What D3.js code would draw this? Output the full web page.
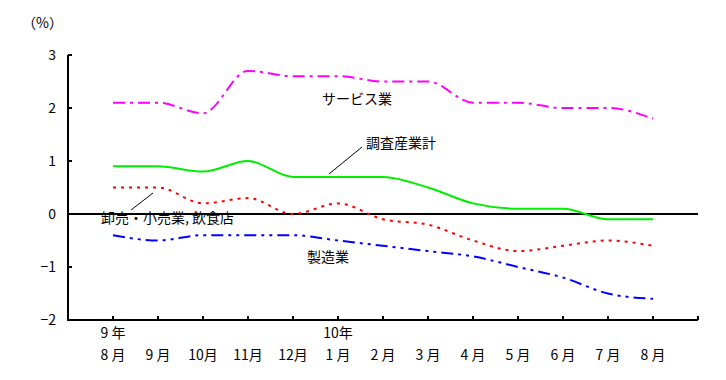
<!DOCTYPE html>
<html><head><meta charset="utf-8">
<script src="https://cdn.jsdelivr.net/npm/d3@7"></script>
<style>body{margin:0;background:#fff}svg{display:block}text{font-family:"Noto Sans CJK JP",sans-serif;fill:#000;white-space:pre}</style>
</head><body><svg id="c" width="726" height="380"></svg>
<script>
const months = ["8 月","9 月","10月","11月","12月","1 月","2 月","3 月","4 月","5 月","6 月","7 月","8 月"];
const years = [{i:0,label:"9 年"},{i:5,label:"10年"}];
const yTicks = [-2,-1,0,1,2,3];
const service = [2.1,2.1,1.9,2.7,2.6,2.6,2.5,2.5,2.1,2.1,2.0,2.0,1.8];
const total = [0.9,0.9,0.8,1.0,0.7,0.7,0.7,0.5,0.2,0.1,0.1,-0.1,-0.1];
const wholesale = [0.5,0.5,0.2,0.3,0.0,0.2,-0.1,-0.2,-0.5,-0.7,-0.6,-0.5,-0.6];
const manuf = [-0.4,-0.5,-0.4,-0.4,-0.4,-0.5,-0.6,-0.7,-0.8,-1.0,-1.2,-1.5,-1.6];

const svg = d3.select("#c");
const x = d3.scaleLinear().domain([-1,13]).range([68,698]);
const y = d3.scaleLinear().domain([-2,3]).range([320,55]);
const fs = 14;

svg.append("line").attr("x1",68).attr("x2",68).attr("y1",y(3)).attr("y2",y(-2)).attr("stroke","#000").attr("stroke-width",2);
svg.append("line").attr("x1",67).attr("x2",x(13)).attr("y1",y(-2)).attr("y2",y(-2)).attr("stroke","#000").attr("stroke-width",2);
svg.append("line").attr("x1",67).attr("x2",x(13)).attr("y1",y(0)).attr("y2",y(0)).attr("stroke","#000").attr("stroke-width",2);
yTicks.forEach(t=>{
  svg.append("line").attr("x1",68).attr("x2",72).attr("y1",y(t)).attr("y2",y(t)).attr("stroke","#000").attr("stroke-width",2);
  svg.append("text").attr("x",56).attr("y",y(t)).attr("dy","0.35em").attr("text-anchor","end").attr("font-size",fs).text(t<0?"\u2212"+(-t):t);
});
months.forEach((m,i)=>{
  svg.append("line").attr("x1",x(i)).attr("x2",x(i)).attr("y1",y(-2)).attr("y2",y(-2)-4).attr("stroke","#000").attr("stroke-width",2);
  svg.append("text").attr("x",x(i)).attr("y",360).attr("text-anchor","middle").attr("font-size",fs).text(m);
});
svg.append("line").attr("x1",x(13)).attr("x2",x(13)).attr("y1",y(-2)).attr("y2",y(-2)-4).attr("stroke","#000").attr("stroke-width",2);
years.forEach(d=>{
  svg.append("text").attr("x",x(d.i)).attr("y",338).attr("text-anchor","middle").attr("font-size",fs).text(d.label);
});
svg.append("text").attr("x",22).attr("y",28).attr("font-size",fs).text("（%）");

const line = d3.line().x((d,i)=>x(i)).y(d=>y(d)).curve(d3.curveMonotoneX);
const series = [
  {v:service,c:"#ff00ff",dash:"12,5,3,5"},
  {v:total,c:"#00ee00",dash:null},
  {v:wholesale,c:"#ff0000",dash:"3,5"},
  {v:manuf,c:"#0000ff",dash:"12,5,3,5,3,5"}
];
series.forEach(s=>{
  const p = svg.append("path").attr("d",line(s.v)).attr("fill","none").attr("stroke",s.c).attr("stroke-width",2);
  if(s.dash) p.attr("stroke-dasharray",s.dash);
});

svg.append("text").attr("x",322).attr("y",104).attr("font-size",fs).text("サービス業");
svg.append("text").attr("x",366).attr("y",148).attr("font-size",fs).text("調査産業計");
svg.append("line").attr("x1",329).attr("y1",174).attr("x2",362).attr("y2",147).attr("stroke","#000").attr("stroke-width",1);
svg.append("text").attr("x",101).attr("y",223).attr("font-size",fs).text("卸売・小売業, 飲食店");
svg.append("line").attr("x1",131).attr("y1",210).attr("x2",153).attr("y2",193).attr("stroke","#000").attr("stroke-width",1);
svg.append("text").attr("x",307).attr("y",262).attr("font-size",fs).text("製造業");
</script></body></html>
